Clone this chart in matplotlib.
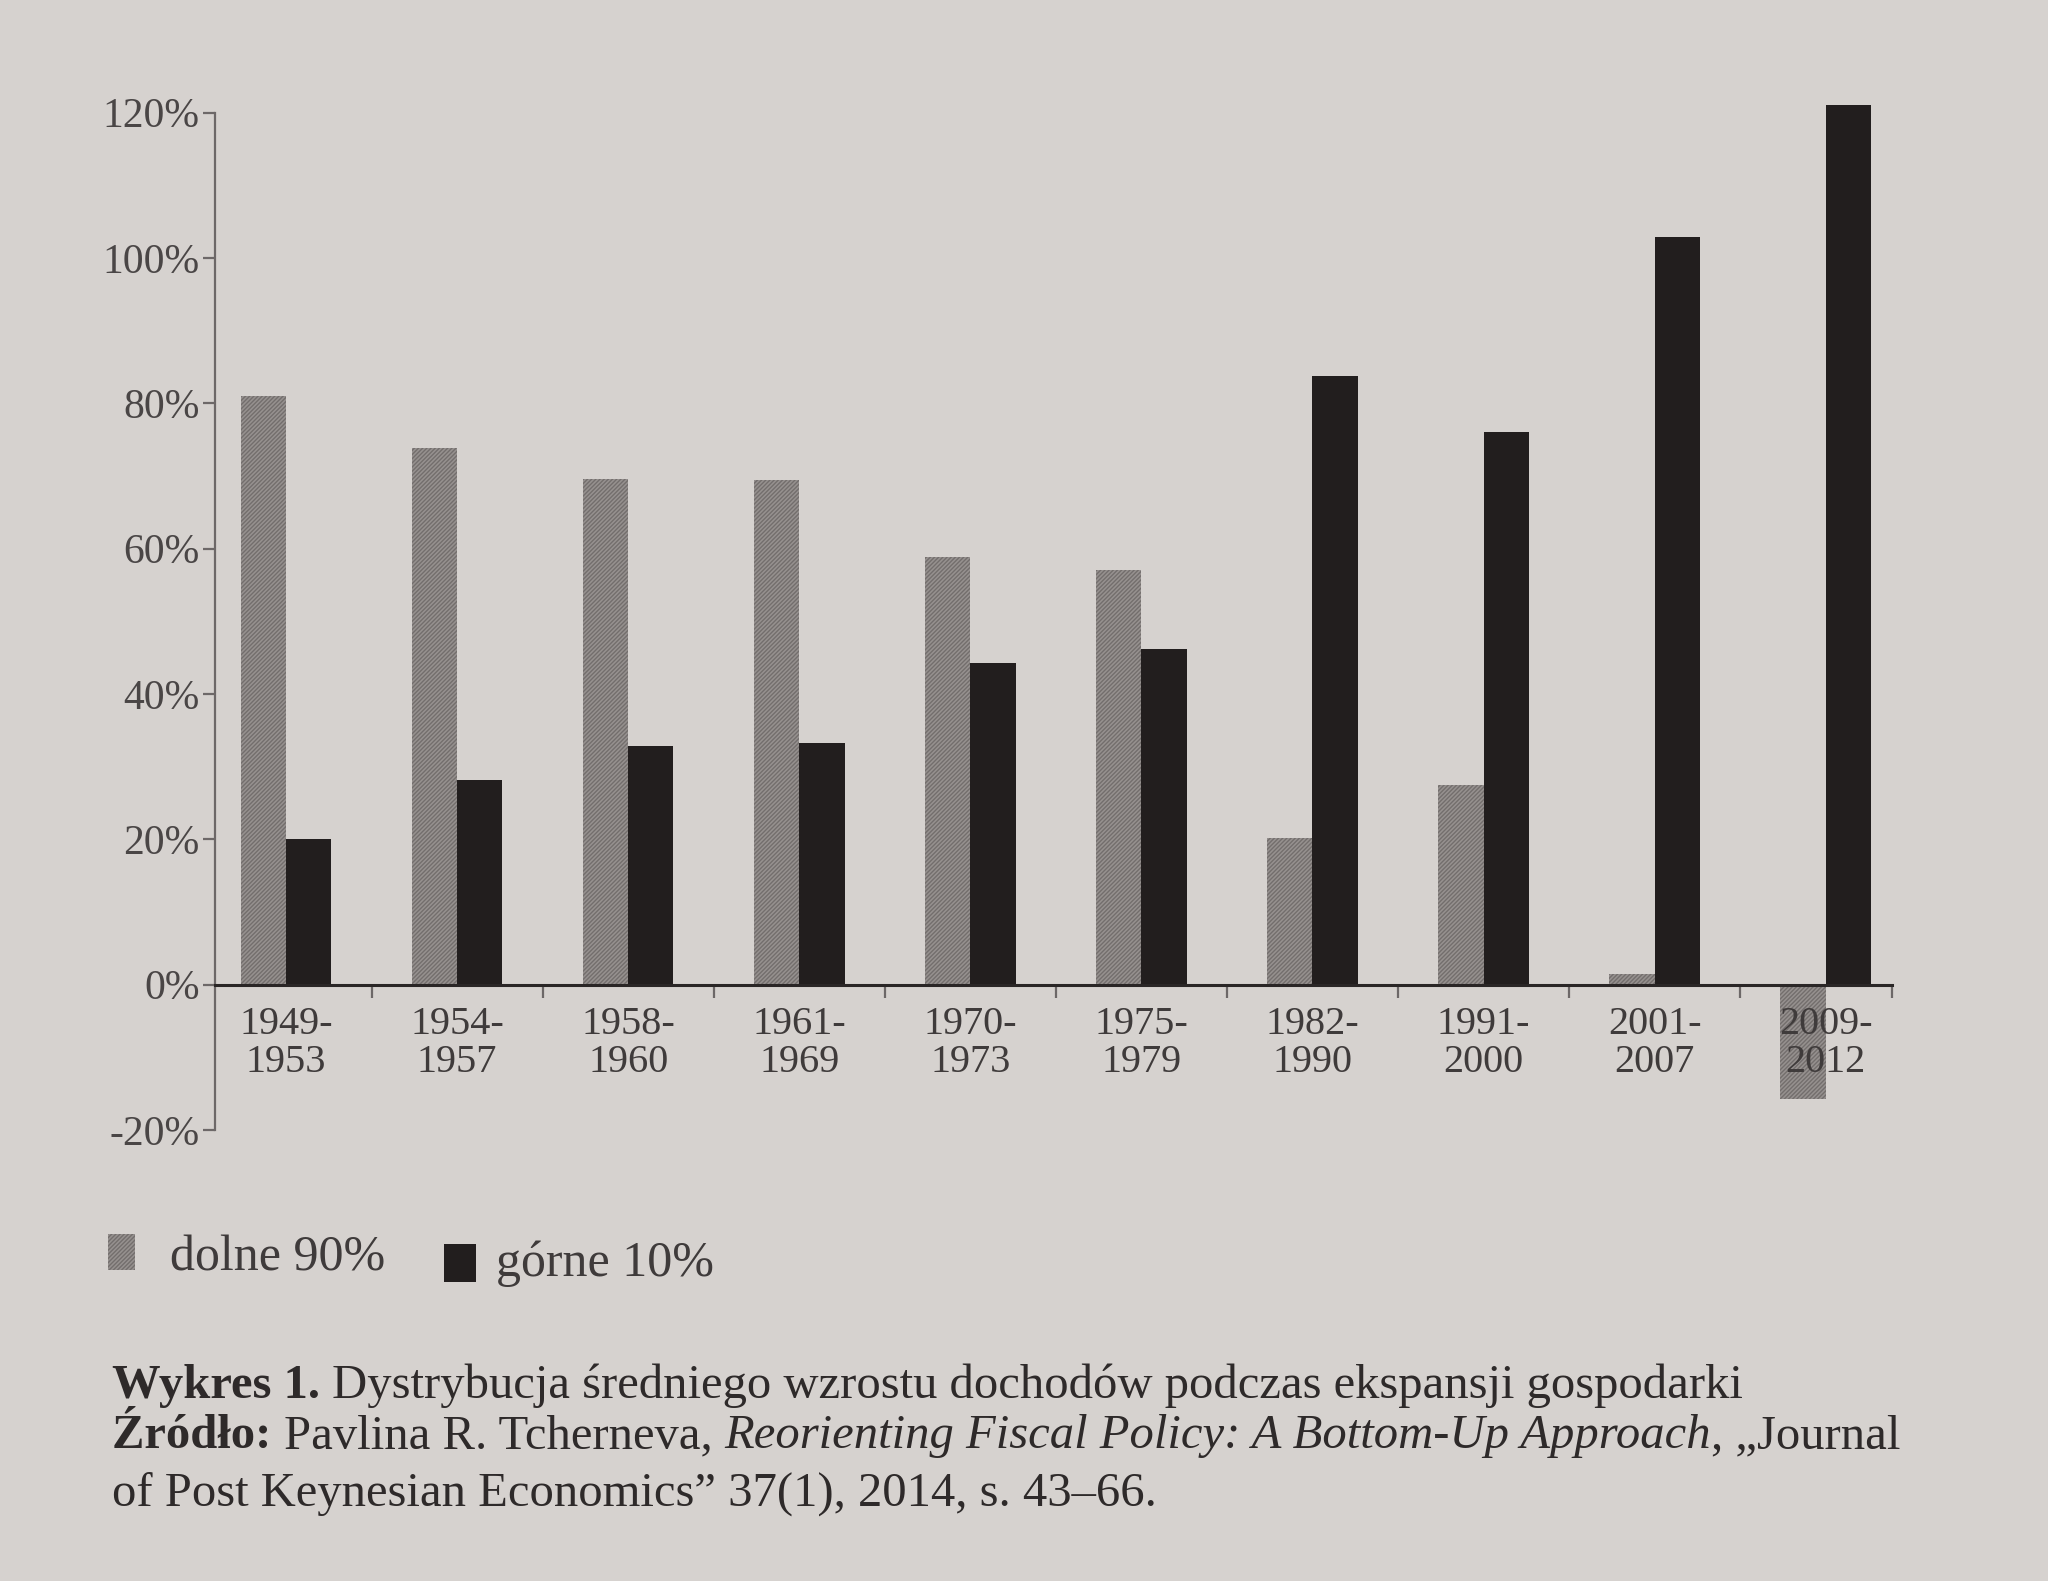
import matplotlib
matplotlib.use("Agg")
import matplotlib.pyplot as plt
import numpy as np

categories = ["1949-\n1953", "1954-\n1957", "1958-\n1960", "1961-\n1969", "1970-\n1973",
              "1975-\n1979", "1982-\n1990", "1991-\n2000", "2001-\n2007", "2009-\n2012"]
dolne_90 = [81.0, 73.8, 69.6, 69.4, 58.8, 57.0, 20.2, 27.5, 1.4, -15.8]
gorne_10 = [20.0, 28.1, 32.9, 33.3, 44.3, 46.2, 83.7, 76.1, 102.9, 121.1]
yticks = [-20, 0, 20, 40, 60, 80, 100, 120]
legend_labels = ["dolne 90%", "górne 10%"]

BG = "#d6d2cf"
GRAY = "#96918f"
GRAY_HATCH = "#736e6d"
BLACK = "#221e1e"
TXT = "#3f3b3b"
SERIF = "Liberation Serif"

fig = plt.figure(figsize=(20.48, 15.81), dpi=100, facecolor=BG)
ax = fig.add_axes([0.105, 0.2853, 0.819, 0.6527])
ax.set_facecolor(BG)

x = np.arange(len(categories))
w = 0.265
ax.bar(x - w / 2, dolne_90, width=w, color=GRAY, edgecolor=GRAY_HATCH, linewidth=0,
       hatch="////////", zorder=2)
ax.bar(x + w / 2, gorne_10, width=w, color=BLACK, linewidth=0, zorder=2)

xl = (-0.415, 9.39)
ax.set_xlim(*xl)
ax.set_ylim(-20, 122)

for s in ["top", "right"]:
    ax.spines[s].set_visible(False)
ax.spines["bottom"].set_position(("data", 0))
ax.spines["bottom"].set_color("#2a2626")
ax.spines["bottom"].set_linewidth(2.2)
ax.spines["bottom"].set_zorder(3)
ax.spines["left"].set_bounds(-20, 120)
ax.spines["left"].set_color("#6d6868")
ax.spines["left"].set_linewidth(1.6)

ax.set_yticks(yticks)
ax.set_yticklabels([f"{v}%" for v in yticks], fontsize=30, family=SERIF, color="#4a4646")
ax.tick_params(axis="y", length=9, width=1.6, color="#6d6868", pad=2)

bounds = list(np.arange(0.5, len(categories) - 1, 1.0)) + [xl[1]]
ax.set_xticks(bounds)
ax.set_xticklabels([])
ax.tick_params(axis="x", length=9, width=1.6, color="#6d6868", direction="out")
for i, c in enumerate(categories):
    ax.text(i, -3.0, c, ha="center", va="top", fontsize=29, family=SERIF, color=TXT,
            linespacing=1.02, zorder=4)

# legend
fig.patches.append(plt.Rectangle((108 / 2048, 1 - 1270 / 1581), 27 / 2048, 36 / 1581,
                                 transform=fig.transFigure, facecolor=GRAY,
                                 edgecolor=GRAY_HATCH, hatch="////////", linewidth=0))
fig.text(170 / 2048, 1 - 1258 / 1581, legend_labels[0], fontsize=36, family=SERIF,
         color=TXT, va="center", ha="left")
fig.patches.append(plt.Rectangle((444 / 2048, 1 - 1282 / 1581), 32 / 2048, 38 / 1581,
                                 transform=fig.transFigure, facecolor=BLACK, linewidth=0))
fig.text(496 / 2048, 1 - 1264 / 1581, legend_labels[1], fontsize=36, family=SERIF,
         color=TXT, va="center", ha="left")

# caption with mixed styles
caption_lines = [
    [("Wykres 1. ", "bold", "normal"),
     ("Dystrybucja średniego wzrostu dochodów podczas ekspansji gospodarki", "normal", "normal")],
    [("Źródło: ", "bold", "normal"), ("Pavlina R. Tcherneva, ", "normal", "normal"),
     ("Reorienting Fiscal Policy: A Bottom-Up Approach", "normal", "italic"),
     (", „Journal", "normal", "normal")],
    [("of Post Keynesian Economics” 37(1), 2014, s. 43–66.", "normal", "normal")],
]
baselines = [1398, 1448, 1506]
fig.canvas.draw()
renderer = fig.canvas.get_renderer()
for line, yb in zip(caption_lines, baselines):
    xpx = 112
    for txt, wt, st in line:
        t = fig.text(xpx / 2048, 1 - yb / 1581, txt, fontsize=35, family=SERIF,
                     weight=wt, style=st, color="#2e2a2a", va="baseline", ha="left")
        bb = t.get_window_extent(renderer=renderer)
        xpx += bb.width

fig.savefig("out.png", dpi=100, facecolor=BG)
